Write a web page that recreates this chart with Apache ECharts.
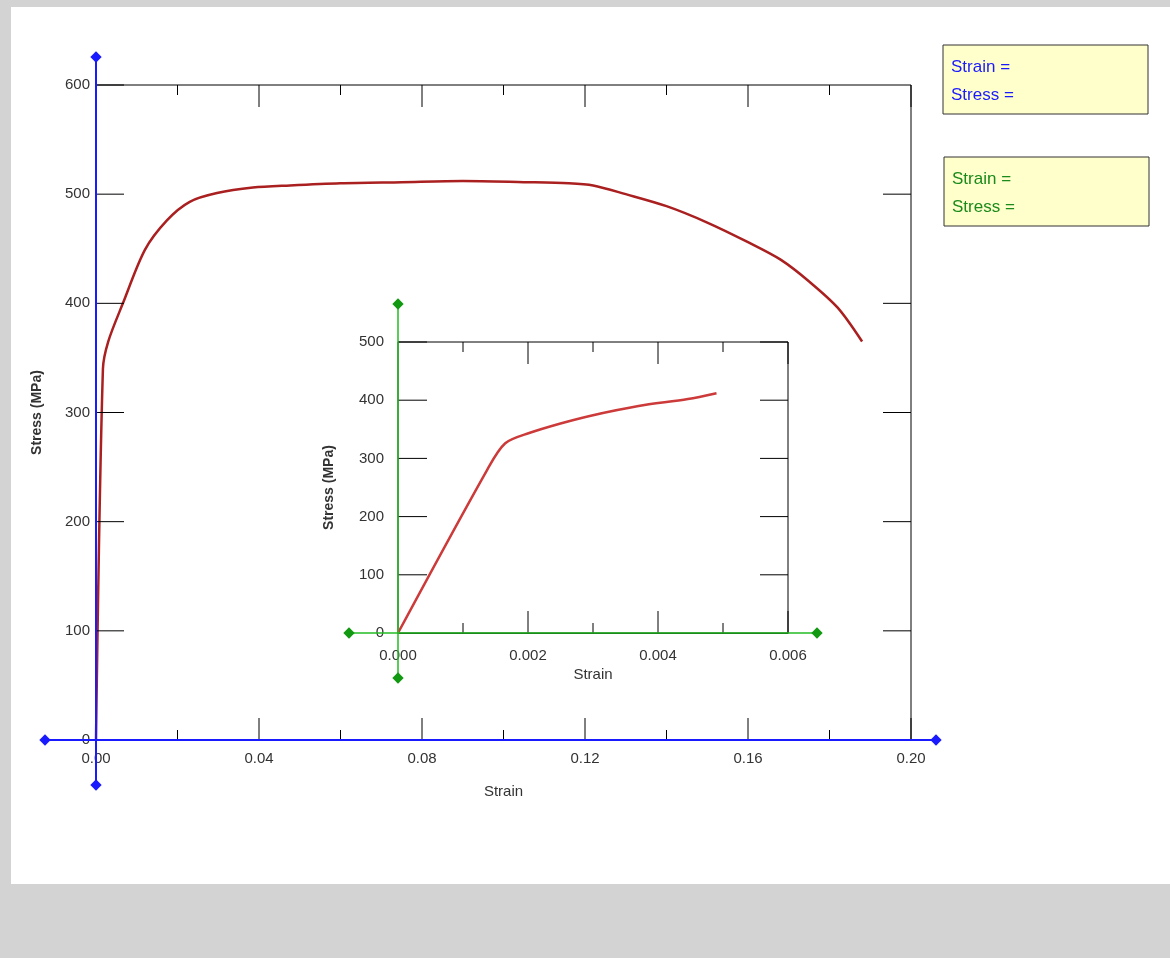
<!DOCTYPE html>
<html><head><meta charset="utf-8">
<script src="https://cdn.jsdelivr.net/npm/echarts@6/dist/echarts.min.js"></script>
<style>html,body{margin:0;padding:0;background:#d3d3d3}#c{width:1170px;height:958px}</style>
</head><body><div id="c"></div>
<script>
const mainStrain = [0, 0.0017, 0.003, 0.0066, 0.012, 0.0174, 0.023, 0.0297, 0.0385, 0.0476, 0.06, 0.075, 0.09, 0.105, 0.116, 0.122, 0.13, 0.14, 0.15, 0.16, 0.168, 0.175, 0.182, 0.188];
const mainStress = [0, 340, 365, 400, 449, 476, 493, 501, 506, 508, 510, 511, 512, 511, 510, 508, 500, 489, 474, 456, 440, 420, 396, 365];
const insetStrain = [0, 0.00137, 0.00165, 0.00203, 0.0025, 0.00295, 0.0037, 0.00446, 0.0049];
const insetStress = [0, 280, 326, 344, 360, 373, 390, 402, 412];
const mainXTicks = [0, 0.02, 0.04, 0.06, 0.08, 0.1, 0.12, 0.14, 0.16, 0.18, 0.2];
const mainYTicks = [100, 200, 300, 400, 500];
const insetXTicks = [0.001, 0.002, 0.003, 0.004, 0.005, 0.006];
const insetYTicks = [100, 200, 300, 400, 500];
const labelA = ['Strain =', 'Stress ='];

const f = 'Liberation Sans, Arial, sans-serif';
const ch = echarts.init(document.getElementById('c'));
const xFmt = d => v => v.toFixed(d);
function diamond(x, y, c) { return {type:'rect', shape:{x:-4,y:-4,width:8,height:8}, x, y, rotation:Math.PI/4, style:{fill:c}, z:100}; }
const ax = {axisLine:{lineStyle:{color:'#000'}}, axisTick:{show:false}, splitLine:{show:false}};
ch.setOption({
  animation:false,
  backgroundColor:'#d3d3d3',
  grid:[
    {left:96, top:85, width:815, height:655, show:true, backgroundColor:'#fff', borderColor:'#000', borderWidth:1},
    {left:398, top:342, width:390, height:291, show:true, backgroundColor:'#fff', borderColor:'#000', borderWidth:1, z:5}
  ],
  xAxis:[
    Object.assign({gridIndex:0, type:'value', min:0, max:0.2, interval:0.04, name:'Strain', nameLocation:'middle', nameGap:44,
     nameTextStyle:{fontFamily:f, fontSize:15, color:'#333'},
     axisLabel:{fontFamily:f, fontSize:15, color:'#333', formatter:xFmt(2), margin:11}}, ax),
    Object.assign({gridIndex:1, type:'value', min:0, max:0.006, interval:0.002, name:'Strain', nameLocation:'middle', nameGap:34,
     nameTextStyle:{fontFamily:f, fontSize:15, color:'#333'},
     axisLabel:{fontFamily:f, fontSize:15, color:'#333', formatter:xFmt(3), margin:15}}, ax)
  ],
  yAxis:[
    Object.assign({gridIndex:0, type:'value', min:0, max:600, interval:100, name:'Stress (MPa)', nameLocation:'middle', nameGap:52,
     nameTextStyle:{fontFamily:f, fontSize:14, color:'#333', fontWeight:'bold'},
     axisLabel:{fontFamily:f, fontSize:15, color:'#333', margin:6}}, ax),
    Object.assign({gridIndex:1, type:'value', min:0, max:500, interval:100, name:'Stress (MPa)', nameLocation:'middle', nameGap:62,
     nameTextStyle:{fontFamily:f, fontSize:14, color:'#333', fontWeight:'bold'},
     axisLabel:{fontFamily:f, fontSize:15, color:'#333', margin:14}}, ax)
  ],
  series:[
    {type:'line', xAxisIndex:0, yAxisIndex:0, smooth:0.3, symbol:'none', data:mainStrain.map((x,i)=>[x,mainStress[i]]),
     lineStyle:{color:'#aa1f1f', width:2.5}, z:3},
    {type:'line', xAxisIndex:1, yAxisIndex:1, smooth:0.3, symbol:'none', data:insetStrain.map((x,i)=>[x,insetStress[i]]),
     lineStyle:{color:'#cc3a3a', width:2.5}, z:10}
  ]
});
const g = [
  {type:'rect', shape:{x:11,y:7,width:1159,height:877}, style:{fill:'#fff'}, z:-10, silent:true},
  {type:'line', shape:{x1:45,y1:740,x2:936,y2:740}, style:{stroke:'#1a1aff', lineWidth:2}, z:90},
  {type:'line', shape:{x1:96,y1:57,x2:96,y2:785}, style:{stroke:'#1a1aff', lineWidth:2}, z:90},
  diamond(45,740,'#1a1aff'), diamond(936,740,'#1a1aff'), diamond(96,57,'#1a1aff'), diamond(96,785,'#1a1aff'),
  {type:'line', shape:{x1:349,y1:633,x2:817,y2:633}, style:{stroke:'#22bb22', lineWidth:1.5}, z:90},
  {type:'line', shape:{x1:398,y1:304,x2:398,y2:678}, style:{stroke:'#22bb22', lineWidth:1.5}, z:90},
  diamond(349,633,'#119911'), diamond(817,633,'#119911'), diamond(398,304,'#119911'), diamond(398,678,'#119911'),
  {type:'rect', shape:{x:943,y:45,width:205,height:69}, style:{fill:'#ffffcc', stroke:'#333', lineWidth:1}, z:90},
  {type:'text', x:951, y:53, style:{text:labelA.join('\n'), fill:'#1a1aff', font:'17px '+f, lineHeight:28}, z:91},
  {type:'rect', shape:{x:944,y:157,width:205,height:69}, style:{fill:'#ffffcc', stroke:'#333', lineWidth:1}, z:90},
  {type:'text', x:952, y:165, style:{text:labelA.join('\n'), fill:'#1a8a1a', font:'17px '+f, lineHeight:28}, z:91}
];
function tl(x1,y1,x2,y2,z){ g.push({type:'line', shape:{x1,y1,x2,y2}, style:{stroke:'#000', lineWidth:1}, z:z||20}); }
const gm = {left:96, top:85, right:911, bottom:740};
mainXTicks.forEach((v,i)=>{ const p = ch.convertToPixel({gridIndex:0},[v,0])[0]; const L = (i%2===0)?22:10;
  tl(p,gm.bottom,p,gm.bottom-L); tl(p,gm.top,p,gm.top+L); });
mainYTicks.forEach(v=>{ const p = ch.convertToPixel({gridIndex:0},[0,v])[1]; tl(gm.left,p,gm.left+28,p); tl(gm.right,p,gm.right-28,p); });
tl(gm.left,gm.top,gm.left+28,gm.top);
const gi = {left:398, top:342, right:788, bottom:633};
insetXTicks.forEach((v,i)=>{ const p = ch.convertToPixel({gridIndex:1},[v,0])[0]; const L = (i%2===1)?22:10;
  tl(p,gi.bottom,p,gi.bottom-L,30); tl(p,gi.top,p,gi.top+L,30); });
insetYTicks.forEach(v=>{ const p = ch.convertToPixel({gridIndex:1},[0,v])[1]; tl(gi.left,p,gi.left+29,p,30); tl(gi.right,p,gi.right-28,p,30); });
ch.setOption({graphic:g});
</script></body></html>
